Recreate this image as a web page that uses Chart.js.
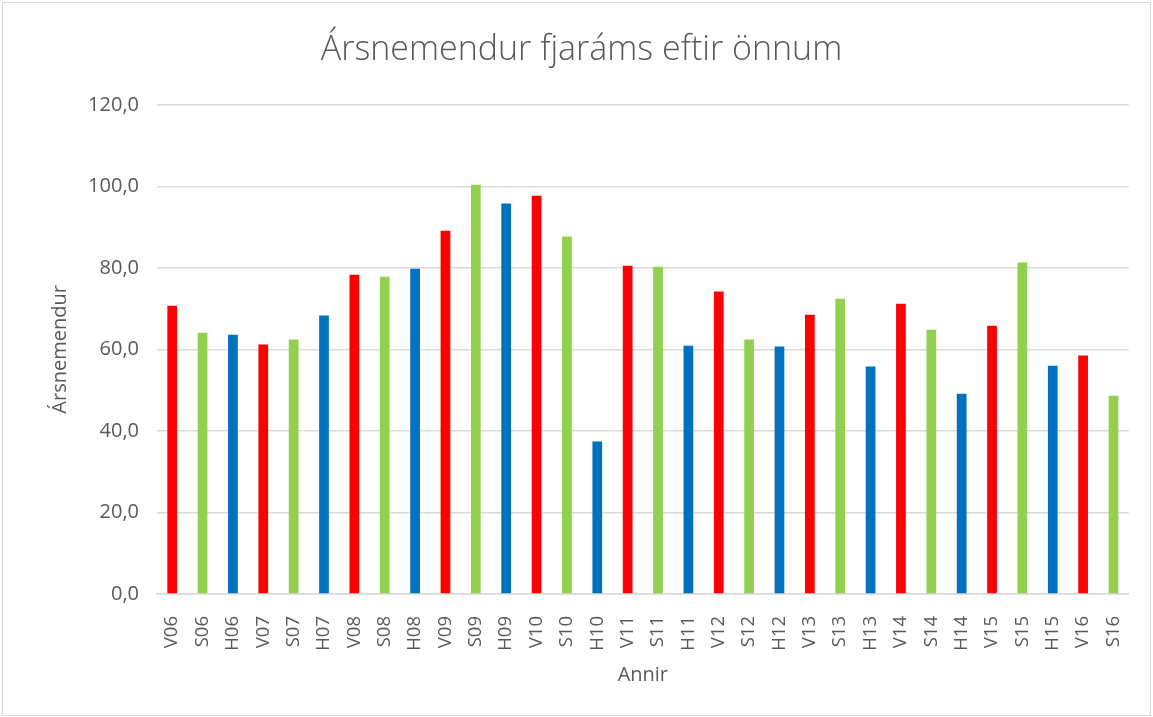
<!DOCTYPE html>
<html lang="is">
<head>
<meta charset="UTF-8" />
<title>Ársnemendur fjaráms eftir önnum</title>
<style>
  body {
    margin: 0;
    background: #fff;
    font-family: 'Open Sans', 'Noto Sans', sans-serif;
  }
  #chartBox {
    position: absolute;
    left: 2px;
    top: 2px;
    width: 1147px;
    height: 712px;
    border: 1px solid #d9d9d9;
  }
</style>
<script src="https://cdn.jsdelivr.net/npm/chart.js"></script>
</head>
<body>

<div id="chartBox">
  <canvas id="chart" width="1147" height="712"></canvas>
</div>

<script>
  // annir: V = vor, S = sumar, H = haust
  const annir = ['V06','S06','H06','V07','S07','H07','V08','S08','H08','V09','S09','H09',
    'V10','S10','H10','V11','S11','H11','V12','S12','H12','V13','S13','H13',
    'V14','S14','H14','V15','S15','H15','V16','S16'];
  const arsnemendur = [70.7, 64.1, 63.6, 61.2, 62.4, 68.3, 78.3, 77.8, 79.8, 89.1, 100.4, 95.8,
    97.7, 87.7, 37.4, 80.5, 80.3, 60.9, 74.2, 62.4, 60.7, 68.5, 72.4, 55.8,
    71.2, 64.8, 49.1, 65.8, 81.3, 56.0, 58.5, 48.6];
  const yTicks = [0, 20, 40, 60, 80, 100, 120];

  const litir = { V: '#ff0000', S: '#92d050', H: '#0070c0' };
  const grey = '#595959';

  const ctx = document.getElementById('chart').getContext('2d');
  new Chart(ctx, {
    type: 'bar',
    data: {
      labels: annir,
      datasets: [{
        label: 'Ársnemendur',
        data: arsnemendur,
        backgroundColor: annir.map(a => litir[a[0]]),
        barPercentage: 0.64,
        categoryPercentage: 0.5
      }]
    },
    options: {
      responsive: false,
      animation: false,
      layout: { padding: { left: 10, right: 0, top: 0, bottom: 0 } },
      plugins: {
        legend: { display: false },
        tooltip: { enabled: false },
        title: {
          display: true,
          text: 'Ársnemendur fjaráms eftir önnum',
          color: grey,
          font: { family: 'Open Sans', size: 34, weight: '300' },
          padding: { top: 27, bottom: 34 }
        }
      },
      scales: {
        x: {
          grid: { display: false },
          border: { display: true, color: '#d9d9d9', width: 1.5 },
          ticks: {
            color: grey,
            font: { family: 'Open Sans', size: 18.5 },
            maxRotation: 90,
            minRotation: 90,
            padding: 14,
            autoSkip: false
          },
          title: {
            display: true,
            text: 'Annir',
            color: grey,
            font: { family: 'Open Sans', size: 20 },
            padding: { top: 0, bottom: 28 }
          },
          afterFit: s => { s.height = 121; }
        },
        y: {
          min: 0,
          max: 120,
          afterBuildTicks: s => { s.ticks = yTicks.map(v => ({ value: v })); },
          grid: { color: '#d9d9d9', lineWidth: 1.5, drawTicks: false },
          border: { display: false },
          ticks: {
            color: grey,
            font: { family: 'Open Sans', size: 20 },
            padding: 18,
            callback: v => v.toFixed(1).replace('.', ',')
          },
          title: {
            display: true,
            text: 'Ársnemendur',
            color: grey,
            font: { family: 'Open Sans', size: 20 },
            padding: { top: 35, bottom: 0 }
          },
          afterFit: s => { s.width = 144; }
        },
        hagri: {
          // tómur ás til hægri sem heldur bili við brúnina
          position: 'right',
          display: true,
          grid: { display: false, drawTicks: false },
          border: { display: false },
          ticks: { display: false },
          afterFit: s => { s.width = 20; }
        }
      }
    }
  });
</script>

</body>
</html>
